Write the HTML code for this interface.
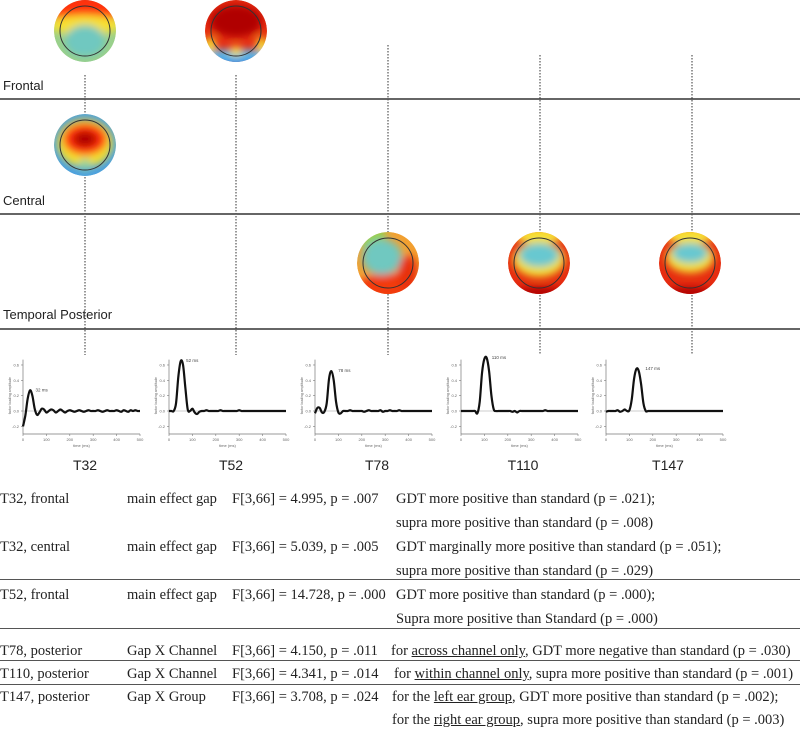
<!DOCTYPE html>
<html><head><meta charset="utf-8"><style>
body{margin:0;background:#fff;width:800px;height:733px;overflow:hidden;position:relative;font-family:"Liberation Sans",sans-serif}
.tbl{position:absolute;left:0;top:0;font-family:"Liberation Serif",serif;font-size:14.5px;color:#222}
.tbl div{position:absolute;white-space:nowrap}
u{text-decoration:underline}
.hl{position:absolute;left:0;width:800px;height:0;border-top:1.5px solid #555}
</style></head><body>
<svg id="fig" width="800" height="480" style="position:absolute;left:0;top:0">
<defs>
<filter id="bl" x="-20%" y="-20%" width="140%" height="140%"><feGaussianBlur stdDeviation="4"/></filter>
<clipPath id="cc"><circle cx="0" cy="0" r="31"/></clipPath>
</defs>
<g stroke="#333" stroke-width="1.5">
<line x1="0" y1="99" x2="800" y2="99"/><line x1="0" y1="214" x2="800" y2="214"/><line x1="0" y1="329" x2="800" y2="329"/>
</g>
<g font-size="13" fill="#222">
<text x="3" y="90">Frontal</text>
<text x="3" y="205">Central</text>
<text x="3" y="319">Temporal Posterior</text>
</g>
<g stroke="#555" stroke-width="1.2" stroke-dasharray="1.5,1.5">
<line x1="85" y1="75" x2="85" y2="355"/><line x1="236" y1="75" x2="236" y2="355"/>
<line x1="388" y1="45" x2="388" y2="355"/><line x1="540" y1="55" x2="540" y2="355"/><line x1="692" y1="55" x2="692" y2="355"/>
</g>
<g id="maps"></g>
<g id="charts"></g>
</svg>
<script>
const NS='http://www.w3.org/2000/svg';
function mk(t,a,p){const e=document.createElementNS(NS,t);for(const k in a)e.setAttribute(k,a[k]);p.appendChild(e);return e;}
const maps=[
 {x:85,y:31,name:'topomap-t32-frontal',bg:'#9ad08a',blobs:[[0,-34,40,30,'#b00000'],[0,-22,38,14,'#ff3010'],[0,-6,36,10,'#f7e030'],[0,10,20,16,'#6fc8c0']]},
 {x:236,y:31,name:'topomap-t52-frontal',bg:'#e62c10',blobs:[[0,36,40,14,'#2c7be0'],[0,24,34,6,'#5ab8e8'],[0,-10,26,16,'#b00000'],[0,20,6,5,'#f3e030'],[-26,14,6,8,'#f3e030'],[26,14,6,8,'#f3e030']]},
 {x:85,y:145,name:'topomap-t32-central',bg:'#4aa0e0',blobs:[[0,-2,28,24,'#f3e030'],[0,-6,22,16,'#ff3010'],[0,-6,12,8,'#b00000'],[0,20,6,6,'#8ad0a0']]},
 {x:388,y:263,name:'topomap-t78-posterior',bg:'#f2a030',blobs:[[-20,-30,18,14,'#9ad040'],[0,24,30,14,'#f23a10'],[-6,-6,20,18,'#70c8c0'],[20,10,10,18,'#e83010']]},
 {x:539,y:263,name:'topomap-t110-posterior',bg:'#e62c10',blobs:[[0,-28,26,8,'#f7e030'],[0,-4,26,18,'#f3e030'],[0,-8,20,12,'#68c8d0'],[0,30,26,6,'#b00000']]},
 {x:690,y:263,name:'topomap-t147-posterior',bg:'#e62c10',blobs:[[0,-28,26,8,'#f7e030'],[0,-6,24,16,'#f3e030'],[0,-10,18,10,'#68c8d0'],[0,30,26,6,'#b00000']]}
];
const mg=document.getElementById('maps');
maps.forEach(m=>{
 const g=mk('g',{transform:`translate(${m.x},${m.y})`},mg);
 
 
 const c=mk('g',{'clip-path':'url(#cc)'},g);
 mk('circle',{r:31,fill:m.bg},c);
 const b=mk('g',{filter:'url(#bl)'},c);
 m.blobs.forEach(q=>mk('ellipse',{cx:q[0],cy:q[1],rx:q[2],ry:q[3],fill:q[4]},b));
 mk('circle',{r:25,fill:'none',stroke:'#333','stroke-width':1},g);
});
const times=[0,10,20,30,40,50,60,70,80,90,100,110,120,130,140,150,160,170,180,190,200,210,220,230,240,250,260,270,280,290,300,310,320,330,340,350,360,370,380,390,400,410,420,430,440,450,460,470,480,490,500];
const wT32=[-0.2,-0.06,0.16,0.27,0.2,0.03,-0.05,-0.02,0.03,0.02,-0.02,0,0.02,0.01,-0.02,0,0.02,0,-0.02,0,0.01,0,-0.01,0,0.01,0,-0.01,0,0.01,0,0,0,0.01,0,-0.01,0,0.01,0,0,0,0.01,0,-0.01,0.01,0,-0.01,0.01,0,0.01,0,0];
const wT52=[0,0,0,0.1,0.45,0.65,0.6,0.3,0.02,0,0.03,-0.02,-0.04,-0.01,0,0,0.01,0,0,0,0,0,0.01,0,0,0,0,0,0,0,0.01,0,0,0,0,0,0,0,0,0,0,0,0,0,0,0,0,0,0,0,0];
const wT78=[-0.03,0.04,0.04,-0.02,-0.01,0.1,0.42,0.52,0.4,0.12,-0.02,-0.03,0,0,0,0.01,0,0,0,0,0,-0.01,0,0.01,0,0,0,0,0.01,-0.01,0,0,0.01,0,0,0,0.01,0,0,0,0,0,0,0,0,0,0,0,0,0,0];
const wT110=[0,0,0,0,0,0,0,-0.03,0.12,0.5,0.68,0.69,0.52,0.2,0.02,0,0,0,0,0,0,0,-0.01,0,-0.02,0,0,0,0,0,0,0,0,0,0,0,0.01,0,0,0,0,0,0,0,0,0,0,0,0,0,0];
const wT147=[-0.01,0,0,0,0,0.01,-0.01,0,0.02,0,0.01,0.15,0.42,0.55,0.52,0.35,0.1,0,0,0,0,0,0,0,0,0,0,0,0,0,0,0,0,0,0,0,0,0,0,0,0,0,0,0,0,0,0,0,0,0,0];
const series=[wT32,wT52,wT78,wT110,wT147];
const labels=['T32','T52','T78','T110','T147'];
const peakMs=[32,52,78,110,147];
const peakLabels=['32 ms','52 ms','78 ms','110 ms','147 ms'];
const yTicks=[-0.2,0,0.2,0.4,0.6];
const yTickLabels=['-0.2','0.0','0.2','0.4','0.6'];
const xTicks=[0,100,200,300,400,500];
const chartLefts=[23,169,315,461,606];
const cg=document.getElementById('charts');
const W=117, y0=411, k=76.7;
series.forEach((s,i)=>{
 const L=chartLefts[i];
 const X=t=>L+t/500*W, Y=v=>y0-v*k;
 const g=mk('g',{},cg);
 
 
 mk('line',{x1:L,y1:Y(0.67),x2:L,y2:Y(-0.3),stroke:'#777','stroke-width':0.7},g);
 mk('line',{x1:L,y1:Y(-0.3),x2:L+W,y2:Y(-0.3),stroke:'#777','stroke-width':0.7},g);
 mk('line',{x1:L,y1:Y(0),x2:L+W,y2:Y(0),stroke:'#999','stroke-width':0.6},g);
 yTicks.forEach((v,j)=>{mk('line',{x1:L-2,y1:Y(v),x2:L,y2:Y(v),stroke:'#777','stroke-width':0.6},g);
  const t=mk('text',{x:L-4,y:Y(v)+1.5,'font-size':4,'text-anchor':'end',fill:'#666'},g);t.textContent=yTickLabels[j];});
 xTicks.forEach(v=>{mk('line',{x1:X(v),y1:Y(-0.3),x2:X(v),y2:Y(-0.3)+2,stroke:'#777','stroke-width':0.6},g);
  const t=mk('text',{x:X(v),y:Y(-0.3)+7,'font-size':4,'text-anchor':'middle',fill:'#666'},g);t.textContent=v;});
 const xt=mk('text',{x:L+W/2,y:Y(-0.3)+13,'font-size':4,'text-anchor':'middle',fill:'#666'},g);xt.textContent='time (ms)';
 const yt=mk('text',{x:L-12,y:Y(0.2),'font-size':3.5,'text-anchor':'middle',fill:'#666',transform:`rotate(-90 ${L-12} ${Y(0.2)})`},g);yt.textContent='factor loading amplitude';
 const P=s.map((v,j)=>[X(times[j]),Y(v)]);
 let d='M'+P[0][0]+','+P[0][1];
 for(let j=0;j<P.length-1;j++){const p0=P[Math.max(j-1,0)],p1=P[j],p2=P[j+1],p3=P[Math.min(j+2,P.length-1)];
  d+=` C${p1[0]+(p2[0]-p0[0])/6},${p1[1]+(p2[1]-p0[1])/6} ${p2[0]-(p3[0]-p1[0])/6},${p2[1]-(p3[1]-p1[1])/6} ${p2[0]},${p2[1]}`;}
 const ln=mk('path',{d:d,fill:'none',stroke:'#111','stroke-width':2.2},g);
 
 
 const pk=Math.max(...s);
 const pl=mk('text',{x:X(peakMs[i])+5,y:Y(pk)+1,'font-size':4.5,fill:'#444'},g);pl.textContent=peakLabels[i];
 const lab=mk('text',{x:L+62,y:470,'font-size':14,'text-anchor':'middle',fill:'#222'},cg);
 lab.textContent=labels[i];
 
 
});
</script>
<div class="tbl">
<div style="left:0;top:491px">T32, frontal</div><div style="left:127px;top:491px">main effect gap</div><div style="left:232px;top:491px">F[3,66] = 4.995, p = .007</div><div style="left:396px;top:491px">GDT more positive than standard (p = .021);</div>
<div style="left:396px;top:515px">supra more positive than standard (p = .008)</div>
<div style="left:0;top:539px">T32, central</div><div style="left:127px;top:539px">main effect gap</div><div style="left:232px;top:539px">F[3,66] = 5.039, p = .005</div><div style="left:396px;top:539px">GDT marginally more positive than standard (p = .051);</div>
<div style="left:396px;top:563px">supra more positive than standard (p = .029)</div>
<div class="hl" style="top:579px"></div>
<div style="left:0;top:587px">T52, frontal</div><div style="left:127px;top:587px">main effect gap</div><div style="left:232px;top:587px">F[3,66] = 14.728, p = .000</div><div style="left:396px;top:587px">GDT more positive than standard (p = .000);</div>
<div style="left:396px;top:611px">Supra more positive than Standard (p = .000)</div>
<div class="hl" style="top:628px"></div>
<div style="left:0;top:643px">T78, posterior</div><div style="left:127px;top:643px">Gap X Channel</div><div style="left:232px;top:643px">F[3,66] = 4.150, p = .011</div><div style="left:391px;top:643px">for <u>across channel only</u>, GDT more negative than standard (p = .030)</div>
<div class="hl" style="top:660px"></div>
<div style="left:0;top:666px">T110, posterior</div><div style="left:127px;top:666px">Gap X Channel</div><div style="left:232px;top:666px">F[3,66] = 4.341, p = .014</div><div style="left:394px;top:666px">for <u>within channel only</u>, supra more positive than standard (p = .001)</div>
<div class="hl" style="top:684px"></div>
<div style="left:0;top:689px">T147, posterior</div><div style="left:127px;top:689px">Gap X Group</div><div style="left:232px;top:689px">F[3,66] = 3.708, p = .024</div><div style="left:392px;top:689px">for the <u>left ear group</u>, GDT more positive than standard (p = .002);</div>
<div style="left:392px;top:712px">for the <u>right ear group</u>, supra more positive than standard (p = .003)</div>
</div>
</body></html>
